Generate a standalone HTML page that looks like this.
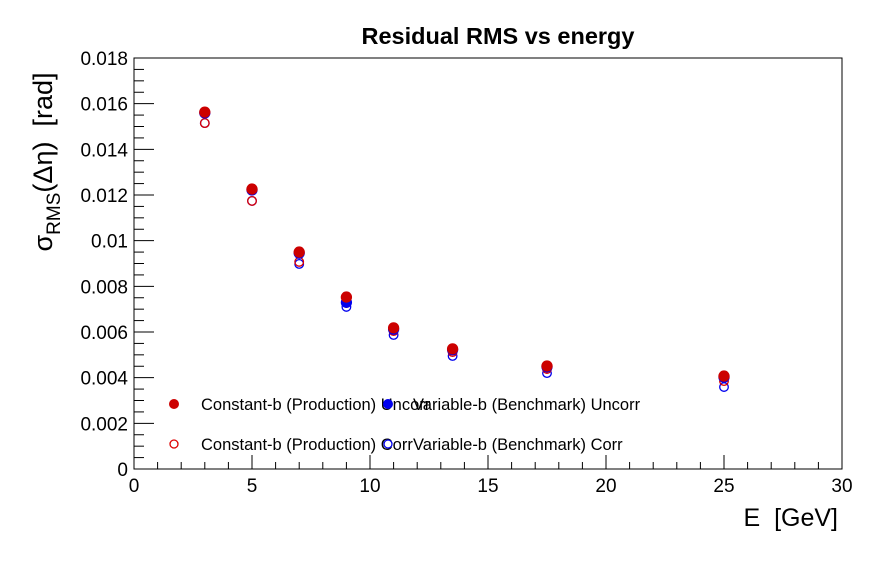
<!DOCTYPE html>
<html><head><meta charset="utf-8"><style>
body{margin:0;background:#fff}
svg{display:block;font-family:"Liberation Sans",sans-serif}
</style></head><body>
<svg id="chart" width="896" height="572" viewBox="0 0 896 572" xmlns="http://www.w3.org/2000/svg">
<rect width="896" height="572" fill="#fff"/>
<text x="498" y="44" text-anchor="middle" font-size="23.5" font-weight="bold">Residual RMS vs energy</text>
<g id="axes"></g>
<g id="marks"></g>
<text x="838" y="526" text-anchor="end" font-size="25">E&#160;&#160;[GeV]</text>
<text transform="translate(52,162) rotate(-90)" text-anchor="middle" font-size="27">σ<tspan font-size="19" dy="8">RMS</tspan><tspan dy="-8">(Δη)&#160;&#160;[rad]</tspan></text>
<g id="legend">
<text x="201" y="410" font-size="16.5">Constant-b (Production) Uncorr</text>
<text x="413" y="410" font-size="16.5">Variable-b (Benchmark) Uncorr</text>
<text x="201" y="450" font-size="16.5">Constant-b (Production) Corr</text>
<text x="413" y="450" font-size="16.5">Variable-b (Benchmark) Corr</text>
</g>
</svg>
<script>
const energies = [3, 5, 7, 9, 11, 13.5, 17.5, 25];
const constUncorr = [0.01563, 0.01226, 0.0095, 0.00753, 0.00618, 0.00526, 0.00451, 0.00407];
const varUncorr = [0.01559, 0.01222, 0.00945, 0.0073, 0.00612, 0.00522, 0.00447, 0.00402];
const constCorr = [0.01515, 0.01174, 0.00907, 0.00727, 0.00604, 0.00512, 0.00438, 0.00385];
const varCorr = [0.01515, 0.01174, 0.00898, 0.0071, 0.00587, 0.00495, 0.0042, 0.00359];
const xTicks = [0, 5, 10, 15, 20, 25, 30];
const yTicks = [0, 0.002, 0.004, 0.006, 0.008, 0.01, 0.012, 0.014, 0.016, 0.018];
const yTickLabels = ["0","0.002","0.004","0.006","0.008","0.01","0.012","0.014","0.016","0.018"];

const L=134,R=842,T=58,B=469,XMAX=30,YMAX=0.018;
const NS="http://www.w3.org/2000/svg";
const xs=v=>L+(v/XMAX)*(R-L);
const ys=v=>B-(v/YMAX)*(B-T);
function mk(tag,attrs,parent){const e=document.createElementNS(NS,tag);for(const k in attrs)e.setAttribute(k,attrs[k]);parent.appendChild(e);return e;}
const axes=document.getElementById('axes');
const frame=mk('rect',{x:L,y:T,width:R-L,height:B-T,fill:'none',stroke:'#000','stroke-width':1},axes);


for(let v=0;v<=XMAX+1e-9;v+=1){const maj=Math.abs(v%5)<1e-9;const x=xs(v);
 mk('line',{x1:x,x2:x,y1:B,y2:B-(maj?14:7),stroke:'#000'},axes);}
xTicks.forEach(v=>{const t=mk('text',{x:xs(v),y:B+23,'text-anchor':'middle','font-size':19},axes);t.textContent=v;
 
 });
for(let i=0;i<=36;i++){const v=i*0.0005;const maj=i%4===0;const y=ys(v);
 mk('line',{x1:L,x2:L+(maj?20:10),y1:y,y2:y,stroke:'#000'},axes);}
yTicks.forEach((v,i)=>{const t=mk('text',{x:L-6,y:ys(v)+7,'text-anchor':'end','font-size':19},axes);t.textContent=yTickLabels[i];
 
 });
const marks=document.getElementById('marks');
function series(vals,color,filled,name){vals.forEach((v,i)=>{const c=mk('circle',{cx:xs(energies[i]),cy:ys(v),r:filled?5:4.3,fill:filled?color:'none',stroke:color,'stroke-width':1.3},marks);
 
 });}
series(varCorr,'#0000ee',false,'point-variable-corr');
series(constCorr,'#dd0000',false,'point-constant-corr');
series(varUncorr,'#0000ee',true,'point-variable-uncorr');
series(constUncorr,'#cc0000',true,'point-constant-uncorr');
const lg=document.getElementById('legend');
const l1=mk('circle',{cx:174,cy:404,r:4.5,fill:'#cc0000',stroke:'#cc0000'},lg);


const l2=mk('circle',{cx:388,cy:404,r:4.5,fill:'#0000ee',stroke:'#0000ee'},lg);


const l3=mk('circle',{cx:174,cy:444,r:4,fill:'none',stroke:'#dd0000','stroke-width':1.3},lg);


const l4=mk('circle',{cx:388,cy:444,r:4,fill:'none',stroke:'#0000ee','stroke-width':1.3},lg);


</script>
</body></html>
